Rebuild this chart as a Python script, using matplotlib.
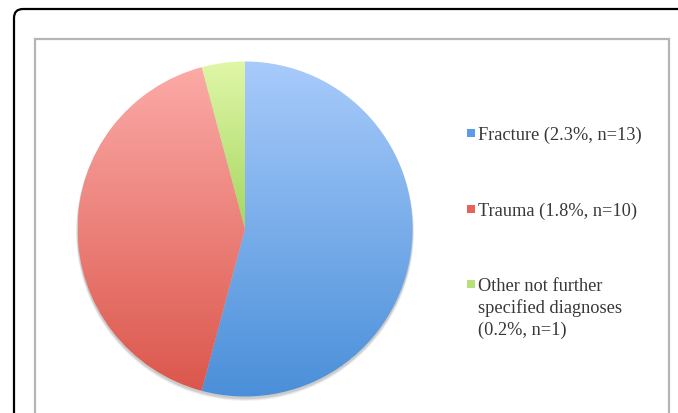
import numpy as np
import matplotlib
matplotlib.use("Agg")
import matplotlib.pyplot as plt
from matplotlib.patches import Rectangle, FancyBboxPatch, Circle
from matplotlib.colors import to_rgb

# ---- data ----
categories = ["Fracture", "Trauma", "Other not further specified diagnoses"]
counts = [13, 10, 1]
percents = [2.3, 1.8, 0.2]
legend_labels = [
    "Fracture (2.3%, n=13)",
    "Trauma (1.8%, n=10)",
    "Other not further\nspecified diagnoses\n(0.2%, n=1)",
]
top_colors = ["#a8cbfb", "#fcaaa7", "#e0f7a8"]
bottom_colors = ["#4a8fd9", "#db574c", "#a6d660"]
legend_colors = ["#5c9ce6", "#e4635b", "#b7e07a"]

W, H = 678, 414
fig = plt.figure(figsize=(W / 100, H / 100), dpi=100)
ax = fig.add_axes([0, 0, 1, 1])

# frames
outer = FancyBboxPatch((14, 10), 700, 430, boxstyle="round,pad=0,rounding_size=9",
                       fc="white", ec="black", lw=1.6, zorder=0)
ax.add_patch(outer)
inner = Rectangle((34.5, 40), 634, 420, fc="white", ec="#b5b5b5", lw=1.6, zorder=1)
ax.add_patch(inner)

cx, cy, r = 245, 230, 167.5

# soft shadow
for k, a in [(3.0, 0.05), (2.0, 0.07), (1.0, 0.09)]:
    ax.add_patch(Circle((cx, cy + 1.5 + k * 0.5), r + k * 0.5, fc="black", alpha=a,
                        lw=0, zorder=2))

wedges, _ = ax.pie(counts, center=(cx, cy), radius=r, startangle=-90,
                   counterclock=True, frame=True,
                   wedgeprops=dict(linewidth=0))
ax.set_xlim(0, W)
ax.set_ylim(H, 0)
ax.set_aspect("equal")
ax.axis("off")

for w, ct, cb in zip(wedges, top_colors, bottom_colors):
    w.set_zorder(3)
    verts = w.get_path().vertices
    x0, x1 = verts[:, 0].min(), verts[:, 0].max()
    y0, y1 = verts[:, 1].min(), verts[:, 1].max()
    t = np.linspace(0, 1, 256)[:, None]
    c0, c1 = np.array(to_rgb(ct)), np.array(to_rgb(cb))
    grad = (c0[None, :] * (1 - t) + c1[None, :] * t)[:, None, :]
    im = ax.imshow(grad, extent=(x0, x1, y1, y0), origin="upper",
                   aspect="auto", zorder=4, interpolation="bilinear")
    im.set_clip_path(w)
    w.set_facecolor("none")

ax.set_xlim(0, W)
ax.set_ylim(H, 0)

# legend
font = dict(family="Liberation Serif", size=13.2, color="#383838")
entries_y = [136, 212, 287]
for lbl, col, y in zip(legend_labels, legend_colors, entries_y):
    ax.add_patch(Rectangle((467, y - 6.5), 8, 8, fc=col, ec="none", zorder=5))
    ax.text(478, y - 9, lbl, ha="left", va="top", linespacing=1.33, zorder=5, **font)

fig.savefig("out.png", dpi=100)
